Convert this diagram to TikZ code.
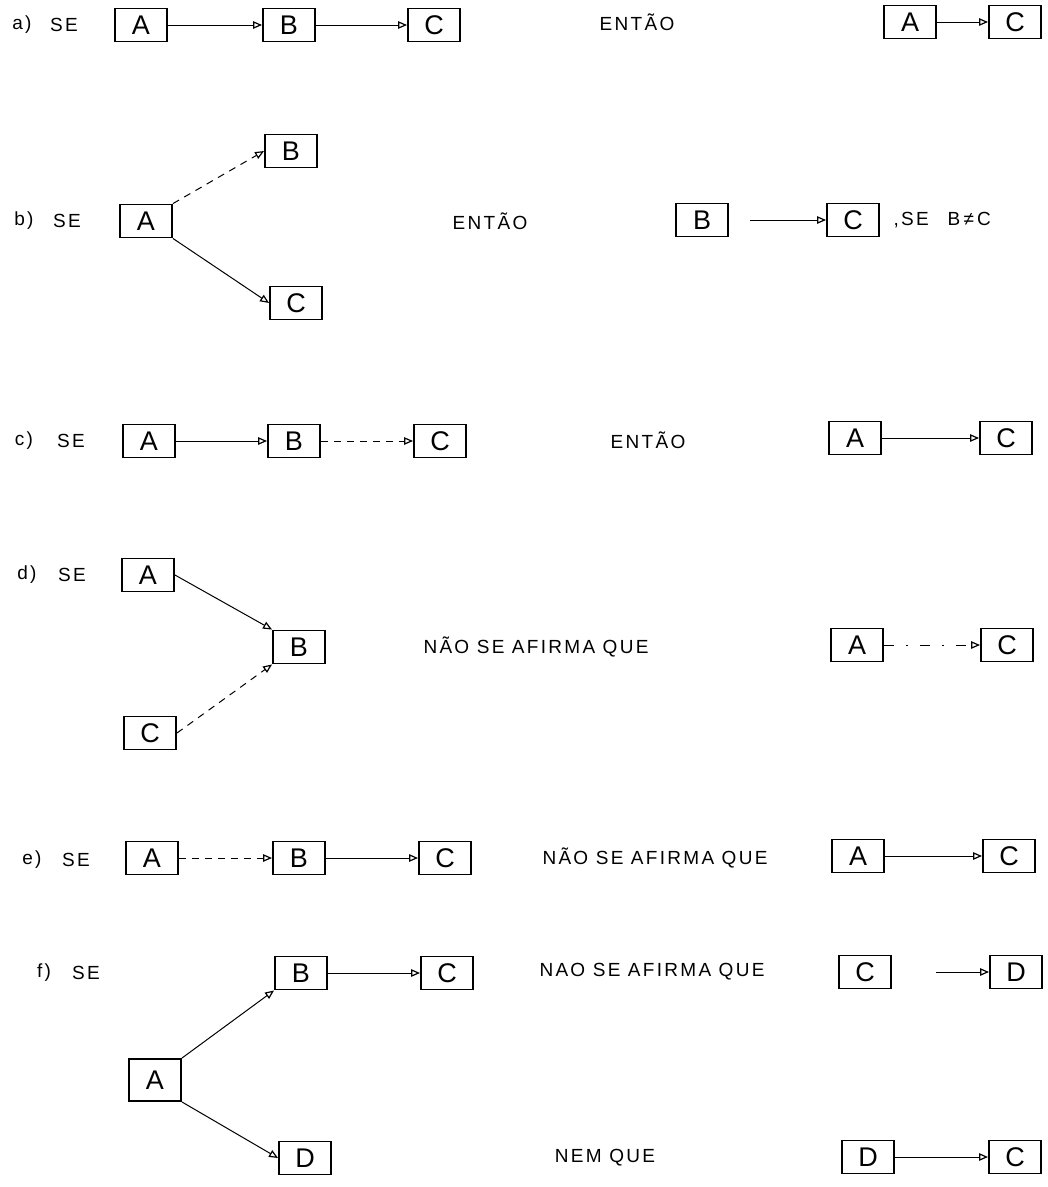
\documentclass[tikz,border=0pt]{standalone}
\usepackage{fontspec}
\setmainfont{Liberation Sans}
\newfontfamily\spacedfont[LetterSpace=12]{Liberation Sans}
\usetikzlibrary{arrows.meta}
\tikzset{
  letterbox/.style={draw, line width=1.9pt, minimum width=52pt, minimum height=33pt, inner sep=0pt, font=\fontsize{27}{27}\selectfont},
  caption/.style={font=\spacedfont\fontsize{19}{19}\selectfont},
  link/.style={line width=1pt, -{Triangle[open, length=9pt, width=7.5pt, line width=1.2pt]}},
  broken/.style={dash pattern=on 7pt off 6pt},
  sparse/.style={dash pattern=on 10pt off 12pt on 2pt off 12pt}
}
\begin{document}
\begin{tikzpicture}[x=1pt,y=-1pt]
\useasboundingbox (0,0) rectangle (1048,1187);
% a)
\node[caption] (la) at (22,25) {a)};
\node[caption] (sa) at (64,25) {SE};
\node[letterbox] (aA) at (141,25) {A};
\node[letterbox] (aB) at (289,25) {B};
\node[letterbox] (aC) at (434,25) {C};
\node[caption] (ta) at (637,22) {ENTÃO};
\node[letterbox] (aA2) at (910,22) {A};
\node[letterbox] (aC2) at (1015,22) {C};
\draw[link] (aA) -- (aB);
\draw[link] (aB) -- (aC);
\draw[link] (aA2) -- (aC2);
% b)
\node[caption] (lb) at (24,221) {b)};
\node[caption] (sb) at (67,221) {SE};
\node[letterbox] (bA) at (146,221) {A};
\node[letterbox] (bB) at (291,151) {B};
\node[letterbox] (bC) at (296,303) {C};
\node[caption] (tb) at (490,221) {ENTÃO};
\node[letterbox] (bB2) at (702,220) {B};
\node[letterbox] (bC2) at (853,220) {C};
\coordinate (bS) at (750,220);
\node[caption, anchor=west] (bR) at (890,220) {,SE\quad B\,≠\,C};
\draw[link, broken] (bA.north east) -- (bB.west);
\draw[link] (bA.south east) -- (bC.west);
\draw[link] (bS) -- (bC2);
% c)
\node[caption] (lc) at (24,441) {c)};
\node[caption] (sc) at (71,441) {SE};
\node[letterbox] (cA) at (149,441) {A};
\node[letterbox] (cB) at (294,441) {B};
\node[letterbox] (cC) at (440,441) {C};
\node[caption] (tc) at (648,440) {ENTÃO};
\node[letterbox] (cA2) at (855,438) {A};
\node[letterbox] (cC2) at (1006,438) {C};
\draw[link] (cA) -- (cB);
\draw[link, broken] (cB) -- (cC);
\draw[link] (cA2) -- (cC2);
% d)
\node[caption] (ld) at (27,575) {d)};
\node[caption] (sd) at (72,575) {SE};
\node[letterbox] (dA) at (148,575) {A};
\node[letterbox] (dB) at (299,647) {B};
\node[letterbox] (dC) at (150,733) {C};
\node[caption] (td) at (536,647) {NÃO SE AFIRMA QUE};
\node[letterbox] (dA2) at (857,645) {A};
\node[letterbox] (dC2) at (1007,645) {C};
\draw[link] (dA.east) -- (dB.north west);
\draw[link, broken] (dC.east) -- (dB.south west);
\draw[link, sparse] (dA2) -- (dC2);
% e)
\node[caption] (le) at (32,860) {e)};
\node[caption] (se) at (76,860) {SE};
\node[letterbox] (eA) at (152,858) {A};
\node[letterbox] (eB) at (299,858) {B};
\node[letterbox] (eC) at (445,858) {C};
\node[caption] (te) at (655,858) {NÃO SE AFIRMA QUE};
\node[letterbox] (eA2) at (858,856) {A};
\node[letterbox] (eC2) at (1009,856) {C};
\draw[link, broken] (eA) -- (eB);
\draw[link] (eB) -- (eC);
\draw[link] (eA2) -- (eC2);
% f)
\node[caption] (lf) at (44,973) {f)};
\node[caption] (sf) at (86,973) {SE};
\node[letterbox] (fB) at (301,973) {B};
\node[letterbox] (fC) at (447,973) {C};
\node[letterbox, minimum height=42pt] (fA) at (155,1080) {A};
\node[letterbox] (fD) at (305,1158) {D};
\node[caption] (tf) at (652,972) {NAO SE AFIRMA QUE};
\node[letterbox] (fC2) at (865,972) {C};
\node[letterbox] (fD2) at (1016,972) {D};
\coordinate (fS) at (936,972);
\node[caption] (tg) at (605,1158) {NEM QUE};
\node[letterbox] (fD3) at (868,1157) {D};
\node[letterbox] (fC3) at (1015,1157) {C};
\draw[link] (fA.north east) -- (fB.south west);
\draw[link] (fA.south east) -- (fD.west);
\draw[link] (fB) -- (fC);
\draw[link] (fS) -- (fD2);
\draw[link] (fD3) -- (fC3);
\end{tikzpicture}
\end{document}
